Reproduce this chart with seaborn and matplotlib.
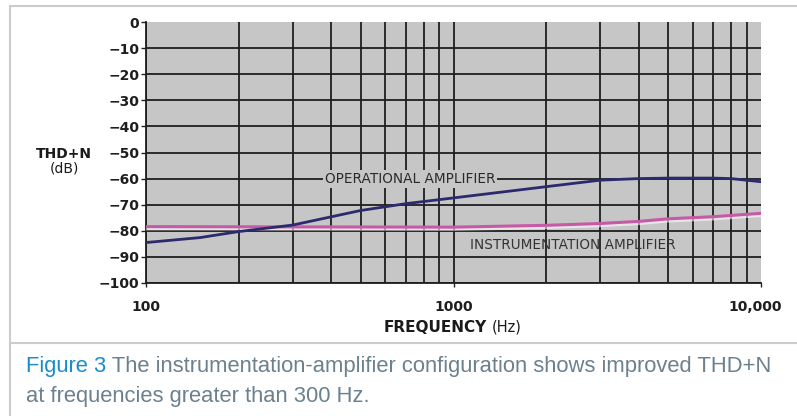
import matplotlib
matplotlib.use('Agg')
import matplotlib.pyplot as plt
import matplotlib.ticker as ticker
import matplotlib.patheffects as pe
from matplotlib.transforms import ScaledTranslation
import numpy as np
import pandas as pd
import seaborn as sns

# THD+N readings taken from the figure
freq_op = [100, 150, 200, 300, 500, 700, 1000, 2000, 3000, 4000, 5000, 7000, 8000, 10000]
thd_op = [-84.5, -82.6, -80.3, -77.8, -72.2, -69.6, -67.4, -63.1, -60.6, -60.0, -59.8, -59.8, -60.0, -61.2]

freq_ia = [100, 300, 1000, 2000, 3000, 4000, 5000, 7000, 10000]
thd_ia = [-78.4, -78.5, -78.6, -77.9, -77.2, -76.4, -75.4, -74.6, -73.3]

y_ticks = list(range(0, -101, -10))
y_labels = ['0'] + ['\u2212' + str(-v) for v in y_ticks[1:]]
x_major = [100, 1000, 10000]
x_labels = ['100', '1000', '10,000']
x_minor = [200, 300, 400, 500, 600, 700, 800, 900, 2000, 3000, 4000, 5000, 6000, 7000, 8000, 9000]

df_op = pd.DataFrame({'freq': freq_op, 'thd': thd_op})
df_ia = pd.DataFrame({'freq': freq_ia, 'thd': thd_ia})

sns.set_style('white')
plt.rcParams['font.family'] = ['DejaVu Sans']

W, H = 797, 416
fig = plt.figure(figsize=(W / 100, H / 100), dpi=100)
ax = fig.add_axes([146 / W, 1 - 283 / H, (761 - 146) / W, (283 - 22) / H])
ax.set_facecolor('#c6c6c6')

ax.set_xscale('log')
ax.set_xlim(100, 10000)
ax.set_ylim(-100, 0)

sns.lineplot(data=df_ia, x='freq', y='thd', ax=ax, color='#c65aa6', lw=2.2, zorder=4,
             path_effects=[pe.SimpleLineShadow(offset=(0, -1.6), shadow_color='white', alpha=0.55),
                           pe.Normal()])
sns.lineplot(data=df_op, x='freq', y='thd', ax=ax, color='#2c2a6c', lw=2.0, zorder=5)

ax.set_xticks(x_major)
ax.set_xticklabels(x_labels)
ax.xaxis.set_minor_locator(ticker.FixedLocator(x_minor))
ax.xaxis.set_minor_formatter(ticker.NullFormatter())
ax.set_yticks(y_ticks)
ax.set_yticklabels(y_labels)

ax.grid(True, which='both', color='#1e1e1e', lw=1.3)
ax.set_axisbelow(True)
for tk in ax.xaxis.get_major_ticks():
    if tk.get_loc() == 10000:
        tk.gridline.set_visible(False)
for tk in ax.yaxis.get_major_ticks():
    if tk.get_loc() == 0:
        tk.gridline.set_visible(False)

for s in ['top', 'right']:
    ax.spines[s].set_visible(False)
for s in ['left', 'bottom']:
    ax.spines[s].set_color('#1e1e1e')
    ax.spines[s].set_linewidth(1.3)

ax.tick_params(axis='y', which='major', left=True, length=3.5, width=1, color='#222',
               pad=1.5, labelsize=10, labelcolor='#1e1e1e')
ax.tick_params(axis='x', which='major', bottom=True, length=3, width=1, color='#222',
               pad=9, labelsize=10, labelcolor='#1e1e1e')
ax.tick_params(axis='x', which='minor', bottom=False, length=0)
for lab in ax.get_xticklabels() + ax.get_yticklabels():
    lab.set_fontweight('bold')
ax.get_xticklabels()[-1].set_transform(
    ax.get_xticklabels()[-1].get_transform() + ScaledTranslation(-6 / 100, 0, fig.dpi_scale_trans))
ax.set_xlabel('')
ax.set_ylabel('')

# curve labels
ax.text(722, -60, 'OPERATIONAL AMPLIFIER', ha='center', va='center', fontsize=9.8,
        color='#2a2a2a', zorder=6,
        bbox=dict(facecolor='#c6c6c6', edgecolor='none', pad=1.5))
ax.text(2450, -85.5, 'INSTRUMENTATION AMPLIFIER', ha='center', va='center', fontsize=9.8,
        color='#333333', zorder=6)

# axis titles
fig.text(64 / W, 1 - 154 / H, 'THD+N', ha='center', va='center', fontsize=10,
         fontweight='bold', color='#1a1a1a')
fig.text(64 / W, 1 - 169 / H, '(dB)', ha='center', va='center', fontsize=10,
         color='#1a1a1a')
fig.text(487 / W, 1 - 327 / H, 'FREQUENCY', ha='right', va='center', fontsize=11,
         fontweight='bold', color='#1a1a1a')
fig.text(492 / W, 1 - 327 / H, '(Hz)', ha='left', va='center', fontsize=10.5,
         color='#1a1a1a')

# frame around figure
frame = '#cccccc'
fig.add_artist(plt.Line2D([10 / W, 1], [1 - 6 / H, 1 - 6 / H], color=frame, lw=1.5))
fig.add_artist(plt.Line2D([10 / W, 10 / W], [0, 1 - 6 / H], color=frame, lw=1.5))
fig.add_artist(plt.Line2D([10 / W, 1], [1 - 343 / H, 1 - 343 / H], color=frame, lw=1.5))

# caption
blue = '#1b8ccb'
grey = '#6c808e'
cap_font = ['Liberation Sans', 'DejaVu Sans']
t1 = fig.text(26 / W, 1 - 372 / H, 'Figure 3', ha='left', va='baseline', fontsize=15.8,
              color=blue, family=cap_font)
fig.canvas.draw()
bb = t1.get_window_extent(renderer=fig.canvas.get_renderer())
fig.text(bb.x1 / W, 1 - 372 / H,
         ' The instrumentation-amplifier configuration shows improved THD+N',
         ha='left', va='baseline', fontsize=15.8, color=grey, family=cap_font)
fig.text(26 / W, 1 - 402 / H, 'at frequencies greater than 300 Hz.', ha='left',
         va='baseline', fontsize=15.8, color=grey, family=cap_font)

fig.savefig('out.png', dpi=100)
